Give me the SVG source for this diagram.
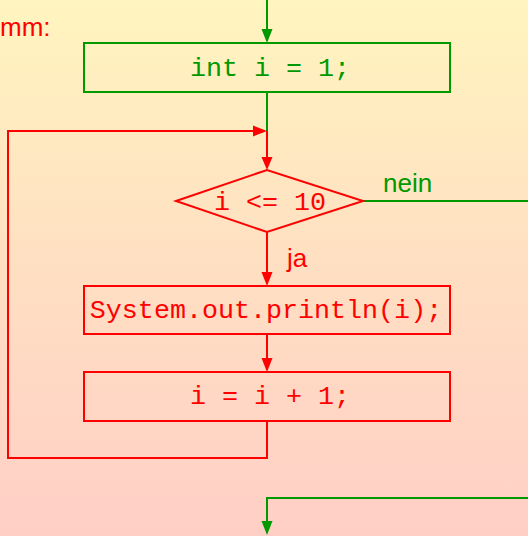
<svg xmlns="http://www.w3.org/2000/svg" width="528" height="536" viewBox="0 0 528 536">
<defs>
<linearGradient id="bg" x1="0" y1="0" x2="0" y2="1">
<stop offset="0" stop-color="#fff5bf"/>
<stop offset="0.5" stop-color="#ffdfc2"/>
<stop offset="1" stop-color="#ffcfc6"/>
</linearGradient>
</defs>
<style>
.g{stroke:#009900;fill:none;stroke-width:2}
.r{stroke:#ff0000;fill:none;stroke-width:2}
.tt{font-family:"Liberation Mono",monospace;font-size:26.7px;text-anchor:middle}
.sf{font-family:"Liberation Sans",sans-serif;font-size:26px}
.tg{fill:#009900}
.tr{fill:#ff0000}
.ahg{fill:#009900}
.ahr{fill:#ff0000}
</style>
<rect width="528" height="536" fill="url(#bg)"/>
<text class="sf tr" x="0" y="36">mm:</text>
<g id="connectors">
<path class="g" d="M267,0 V30"/>
<path class="ahg" d="M261.5,29 L272.5,29 L267,43 z"/>
<path class="g" d="M267,92 V131"/>
<path class="r" d="M267,131 V158"/>
<path class="ahr" d="M261.5,157 L272.5,157 L267,170 z"/>
<path class="g" d="M363,201 H528"/>
<path class="r" d="M267,232 V273"/>
<path class="ahr" d="M261.5,272 L272.5,272 L267,286 z"/>
<path class="r" d="M267,334 V359"/>
<path class="ahr" d="M261.5,358 L272.5,358 L267,372 z"/>
<path class="r" d="M267,421 V458 H8 V131 H254"/>
<path class="ahr" d="M253,125.5 L253,136.5 L267,131 z"/>
<path class="g" d="M528,498 H267 V522"/>
<path class="ahg" d="M261.5,521 L272.5,521 L267,535 z"/>
<text class="sf tg" x="383" y="192">nein</text>
<text class="sf tr" x="287" y="267">ja</text>
</g>
<g id="init">
<rect class="g" x="84" y="43" width="366" height="49"/>
<text class="tt tg" x="270" y="76">int i = 1;</text>
</g>
<g id="cond">
<path class="r" d="M176,201 L267,170 L363,201 L267,232 z"/>
<text class="tt tr" x="270" y="210">i &lt;= 10</text>
</g>
<g id="print">
<rect class="r" x="84" y="286" width="366" height="48"/>
<text class="tt tr" x="266" y="318">System.out.println(i);</text>
</g>
<g id="incr">
<rect class="r" x="84" y="372" width="366" height="49"/>
<text class="tt tr" x="270" y="404">i = i + 1;</text>
</g>
</svg>
